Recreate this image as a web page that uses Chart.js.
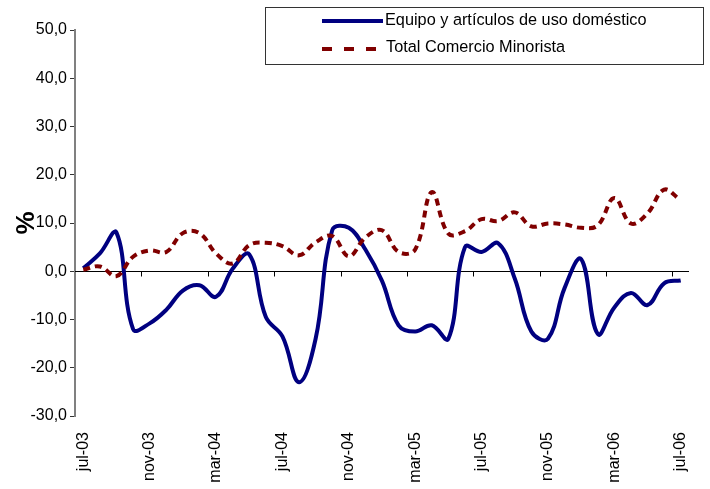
<!DOCTYPE html>
<html>
<head>
<meta charset="utf-8">
<script src="https://cdn.jsdelivr.net/npm/chart.js@4/dist/chart.umd.min.js"></script>
<style>
  html, body { margin: 0; padding: 0; background: #fff; }
  #wrap { width: 710px; height: 489px; }
</style>
</head>
<body>
<div id="wrap"><canvas id="chart" width="710" height="489"></canvas></div>
<script>
const categories = [
  'jul-03', 'ago-03', 'sep-03', 'oct-03', 'nov-03', 'dic-03',
  'ene-04', 'feb-04', 'mar-04', 'abr-04', 'may-04', 'jun-04',
  'jul-04', 'ago-04', 'sep-04', 'oct-04', 'nov-04', 'dic-04',
  'ene-05', 'feb-05', 'mar-05', 'abr-05', 'may-05', 'jun-05',
  'jul-05', 'ago-05', 'sep-05', 'oct-05', 'nov-05', 'dic-05',
  'ene-06', 'feb-06', 'mar-06', 'abr-06', 'may-06', 'jun-06',
  'jul-06'
];

// Equipo y artículos de uso doméstico (%)
const equipo = [
  0.6, 3.7, 8.0, -12.0, -10.8, -8.0,
  -4.0, -2.9, -5.3, 0.5, 3.5, -9.5,
  -13.5, -23.0, -14.0, 8.5, 9.0, 4.5,
  -2.0, -11.2, -12.5, -11.2, -14.0, 5.0,
  4.0, 5.8, -1.5, -12.5, -14.0, -3.5,
  2.5, -13.0, -7.5, -4.5, -7.0, -2.5,
  -1.9
];

// Total Comercio Minorista (%)
const totalComercio = [
  0.3, 1.0, -1.0, 3.0, 4.3, 4.0,
  7.9, 7.9, 3.7, 1.6, 5.4, 5.9,
  5.2, 3.3, 6.0, 7.3, 3.1, 7.0,
  8.5, 4.0, 4.5, 16.4, 7.8, 8.3,
  10.8, 10.4, 12.2, 9.3, 9.9, 9.7,
  9.0, 9.5, 15.2, 9.9, 12.0, 16.9,
  14.7
];

const yMin = -30;
const yMax = 50;
const yStep = 10;
const labelEvery = 4;

const seriesNames = ['Equipo y artículos de uso doméstico', 'Total Comercio Minorista'];
const FONT = "'Liberation Sans', Arial, sans-serif";

// zero line + category tick marks, drawn under the lines
const zeroAxis = {
  id: 'zeroAxis',
  beforeDatasetsDraw(chart) {
    const { ctx, chartArea, scales } = chart;
    const y0 = Math.round(scales.y.getPixelForValue(0)) + 0.5;
    ctx.save();
    ctx.strokeStyle = '#000';
    ctx.lineWidth = 1.2;
    ctx.beginPath();
    ctx.moveTo(chartArea.left, y0);
    ctx.lineTo(chartArea.right, y0);
    ctx.stroke();
    ctx.lineWidth = 1;
    for (let i = labelEvery; i < categories.length; i += labelEvery) {
      const x = Math.round(scales.x.getPixelForValue(i - 0.5)) + 0.5;
      ctx.beginPath();
      ctx.moveTo(x, y0);
      ctx.lineTo(x, y0 + 5);
      ctx.stroke();
    }
    ctx.restore();
  }
};

// boxed legend in the top right
const boxLegend = {
  id: 'boxLegend',
  afterDraw(chart) {
    const ctx = chart.ctx;
    ctx.save();
    ctx.fillStyle = '#fff';
    ctx.fillRect(265, 7, 438, 57);
    ctx.strokeStyle = '#333';
    ctx.lineWidth = 1;
    ctx.strokeRect(265.5, 7.5, 438, 57);

    ctx.lineWidth = 4;
    ctx.strokeStyle = '#000080';
    ctx.beginPath();
    ctx.moveTo(322, 21);
    ctx.lineTo(383, 21);
    ctx.stroke();

    ctx.strokeStyle = '#800000';
    ctx.setLineDash([10, 12]);
    ctx.beginPath();
    ctx.moveTo(322, 49);
    ctx.lineTo(377, 49);
    ctx.stroke();
    ctx.setLineDash([]);

    ctx.fillStyle = '#000';
    ctx.font = '16.3px ' + FONT;
    ctx.textBaseline = 'middle';
    ctx.fillText(seriesNames[0], 385, 21);
    ctx.fillText(seriesNames[1], 386, 48);
    ctx.restore();
  }
};

new Chart(document.getElementById('chart').getContext('2d'), {
  type: 'line',
  data: {
    labels: categories,
    datasets: [
      {
        label: seriesNames[0],
        data: equipo,
        borderColor: '#000080',
        borderWidth: 4,
        pointRadius: 0,
        tension: 0.4,
        fill: false,
        order: 1,
      },
      {
        label: seriesNames[1],
        data: totalComercio,
        borderColor: '#800000',
        borderWidth: 4,
        borderDash: [7, 5],
        borderCapStyle: 'butt',
        pointRadius: 0,
        tension: 0.4,
        fill: false,
        order: 0,
      },
    ],
  },
  options: {
    responsive: false,
    animation: false,
    layout: { padding: { top: 30, right: 21, left: 0, bottom: 0 } },
    plugins: {
      legend: { display: false },
      tooltip: { enabled: false },
    },
    scales: {
      x: {
        type: 'category',
        offset: true,
        grid: { display: false, offset: true },
        border: { display: false },
        ticks: {
          autoSkip: false,
          minRotation: 90,
          maxRotation: 90,
          padding: 8,
          color: '#000',
          font: { family: FONT, size: 16 },
          callback: (val, i) => (i % labelEvery === 0 ? categories[i] : null),
        },
        afterFit: (scale) => { scale.height = 73; },
      },
      y: {
        min: yMin,
        max: yMax,
        ticks: {
          stepSize: yStep,
          padding: 3,
          color: '#000',
          font: { family: FONT, size: 16 },
          callback: (v) => v.toFixed(1).replace('.', ','),
        },
        grid: {
          drawOnChartArea: false,
          drawTicks: true,
          tickLength: 5,
          color: '#333',
        },
        border: { display: true, color: '#808080', width: 2 },
        title: {
          display: true,
          text: '%',
          color: '#000',
          font: { family: FONT, size: 26, weight: 'bold' },
          padding: { top: 11, bottom: 0 },
        },
        afterFit: (scale) => { scale.width = 75; },
      },
    },
  },
  plugins: [zeroAxis, boxLegend],
});
</script>
</body>
</html>
